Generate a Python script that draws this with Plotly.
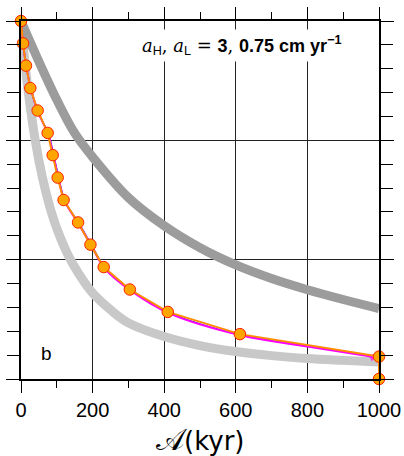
import plotly.graph_objects as go

# Age axis (kyr) and normalised position for the two reference curves
slow_age = [0, 50, 100, 150, 200, 300, 400, 500, 600, 700, 800, 900, 1000]
slow_val = [15, 13.3, 11.7, 10.3, 9.3, 7.6, 6.42, 5.5, 4.78, 4.21, 3.74, 3.33, 2.95]

fast_age = [0, 10, 20, 40, 60, 80, 100, 130, 160, 200, 250, 300, 400, 500, 600, 700, 800, 900, 1000]
fast_val = [15, 13.4, 12.07, 9.97, 8.43, 7.24, 6.31, 5.24, 4.44, 3.6, 2.9, 2.35, 1.78, 1.4, 1.15, 0.98, 0.86, 0.78, 0.71]

# Model layers: age of each layer boundary
layer_age = [0, 5.6, 14, 26, 46.5, 74.5, 88.5, 102.5, 119, 159.4, 194, 231, 304, 410, 611.5, 1000, 1000]
layer_val = [15, 14.06, 13.13, 12.19, 11.25, 10.31, 9.38, 8.44, 7.5, 6.56, 5.63, 4.69, 3.75, 2.81, 1.88, 0.94, 0]

# Smoothed estimates underneath the layer curve
smooth_age = [0, 6, 15, 28, 48, 76, 91, 105, 122, 161, 197, 234, 307, 413, 614, 800, 982]
smooth_val = [15, 14.02, 13.08, 12.13, 11.18, 10.24, 9.32, 8.38, 7.45, 6.5, 5.57, 4.63, 3.7, 2.76, 1.83, 1.36, 0.93]
blue_age = [0, 6, 15, 28, 48, 77, 92, 106, 123, 162, 198, 235, 308, 414, 615, 800, 975]
blue_val = [15, 14.02, 13.08, 12.13, 11.18, 10.24, 9.32, 8.38, 7.45, 6.52, 5.58, 4.65, 3.72, 2.78, 1.84, 1.38, 0.97]

x_ticks = [0, 200, 400, 600, 800, 1000]
x_labels = ["0", "200", "400", "600", "800", "1000"]
y_grid = [0, 5, 10, 15]

fig = go.Figure()

fig.add_trace(go.Scatter(x=fast_age, y=fast_val, mode="lines", line=dict(color="#c8c8c8", width=9, shape="spline"),
                         hoverinfo="skip"))
fig.add_trace(go.Scatter(x=slow_age, y=slow_val, mode="lines", line=dict(color="#9c9c9c", width=9, shape="spline"),
                         hoverinfo="skip"))
fig.add_trace(go.Scatter(x=blue_age, y=blue_val, mode="lines", line=dict(color="#2a2aff", width=1.5, shape="spline"),
                         hoverinfo="skip"))
n = len(smooth_age)
fig.add_trace(go.Scatter(x=smooth_age, y=smooth_val, mode="lines+markers",
                         line=dict(color="#ff00ff", width=2, shape="spline"),
                         marker=dict(symbol="triangle-right", angleref="previous", color="#ff00ff",
                                     size=[0] * (n - 1) + [9], line=dict(width=0)),
                         hoverinfo="skip"))
fig.add_trace(go.Scatter(x=layer_age, y=layer_val, mode="lines+markers",
                         line=dict(color="#ff8c00", width=2),
                         marker=dict(symbol="circle", size=11.5, color="#ffa500",
                                     line=dict(color="#ff2000", width=1)),
                         cliponaxis=False, hoverinfo="skip"))

axis_font = dict(family="Liberation Sans, Arial, sans-serif", size=20, color="black")

fig.update_xaxes(range=[0, 1000], tickvals=x_ticks, ticktext=x_labels, ticks="outside", ticklen=12,
                 tickwidth=1, tickcolor="black", showline=True, linewidth=2, linecolor="black",
                 mirror="allticks", showgrid=True, gridcolor="#222222", gridwidth=1, zeroline=False,
                 tickfont=axis_font, automargin=False,
                 minor=dict(dtick=100, ticks="outside", ticklen=7, tickcolor="black", showgrid=False))
fig.update_yaxes(range=[0, 15], tickvals=y_grid, showticklabels=False, ticks="outside", ticklen=13,
                 tickwidth=1, tickcolor="black", showline=True, linewidth=2, linecolor="black",
                 mirror="allticks", showgrid=True, gridcolor="#222222", gridwidth=1, zeroline=False,
                 automargin=False,
                 minor=dict(dtick=1, ticks="outside", ticklen=12, tickcolor="black", showgrid=False))

# Axis title
fig.add_annotation(xref="paper", yref="paper", x=0.5, y=-0.168, xanchor="center", yanchor="middle",
                   showarrow=False,
                   text='<span style="font-size:30px">𝒜</span>(kyr)',
                   font=dict(family="DejaVu Sans, sans-serif", size=26, color="black"))

fig.add_annotation(
    xref="paper", yref="paper", x=0.616, y=0.932, xanchor="center", yanchor="middle", showarrow=False,
    text=('<span style="font-family:\'DejaVu Serif\'"><i>a</i></span><sub>H</sub>'
          '<span style="font-family:\'DejaVu Serif\'">, </span>'
          '<span style="font-family:\'DejaVu Serif\'"><i>a</i></span><sub>L</sub>'
          '<span style="font-family:\'DejaVu Serif\'"> = </span><b>3</b>'
          '<span style="font-family:\'DejaVu Serif\'">, </span>'
          '<b>0.75 cm yr<sup>−1</sup></b>'),
    font=dict(family="Liberation Sans, Arial, sans-serif", size=18, color="black"),
    bgcolor="white", borderpad=3)
fig.add_annotation(xref="paper", yref="paper", x=0.071, y=0.072, xanchor="center", yanchor="middle",
                   showarrow=False, text="b",
                   font=dict(family="Liberation Sans, Arial, sans-serif", size=19, color="black"))

fig.update_layout(width=404, height=456, margin=dict(l=21, r=25, t=21, b=77),
                  paper_bgcolor="white", plot_bgcolor="white", showlegend=False)

fig.write_html("out.html")
